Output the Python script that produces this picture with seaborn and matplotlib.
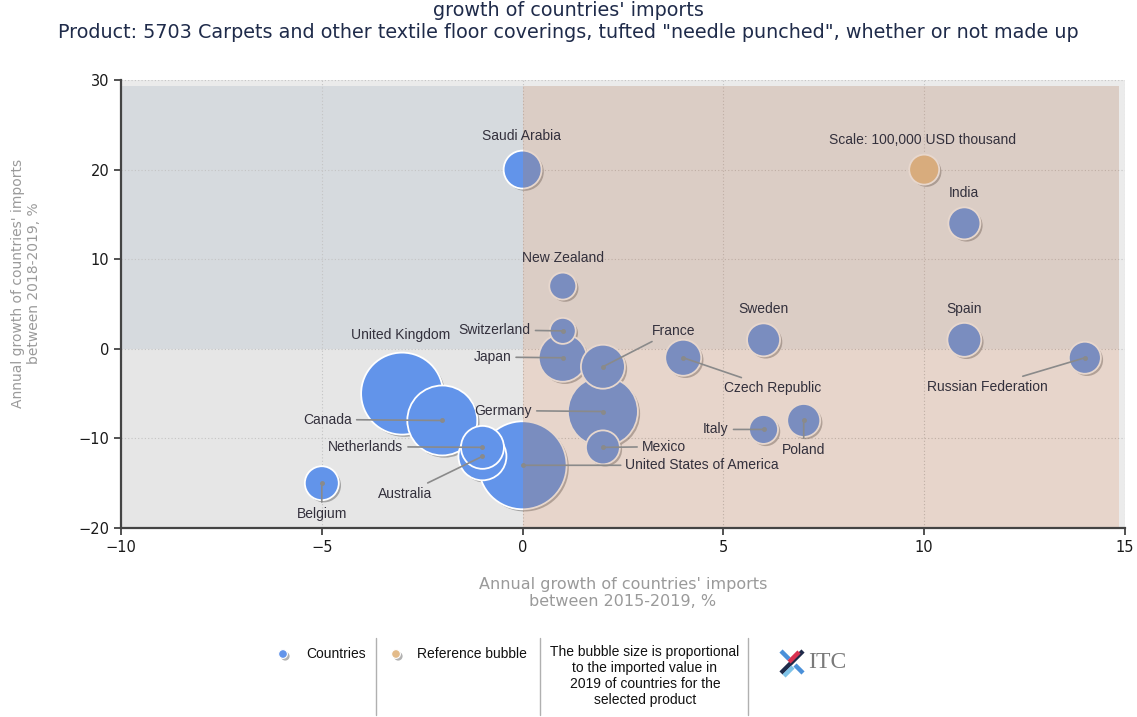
import numpy as np
import pandas as pd
import matplotlib
matplotlib.use("Agg")
import matplotlib.pyplot as plt
import matplotlib.patheffects as pe
from matplotlib.patches import Rectangle
import seaborn as sns

# ---- data -------------------------------------------------------------
countries = [
    "United States of America", "United Kingdom", "Germany", "Canada",
    "Japan", "Australia", "France", "Netherlands", "Saudi Arabia",
    "Czech Republic", "Mexico", "Belgium", "Spain", "Sweden", "Poland",
    "India", "Russian Federation", "Italy", "New Zealand", "Switzerland",
]
growth_2015_2019 = [0, -3, 2, -2, 1, -1, 2, -1, 0, 4, 2, -5, 11, 6, 7, 11, 14, 6, 1, 1]
growth_2018_2019 = [-13, -5, -7, -8, -1, -12, -2, -11, 20, -1, -11, -15, 1, 1, -8, 14, -1, -9, 7, 2]
imports_2019 = [860000, 747000, 544000, 544000, 256000, 256000, 215000, 205000,
                160000, 144000, 128000, 128000, 128000, 121000, 121000,
                114000, 114000, 93000, 81000, 75000]

reference_label = "Scale: 100,000 USD thousand"
reference_x = [10]
reference_y = [20]
reference_value = [100000]

x_ticks = [-10, -5, 0, 5, 10, 15]
y_ticks = [-20, -10, 0, 10, 20, 30]

# ---- label placement (offsets in points from the bubble centre) ------
label_layout = {
    "United States of America": ((74, 0), "left", True),
    "United Kingdom": ((-1, 42), "center", False),
    "Germany": ((-51, 0.7), "right", True),
    "Canada": ((-65, 0.7), "right", True),
    "Japan": ((-37, 0.5), "right", True),
    "Australia": ((-36, -27), "right", True),
    "France": ((35, 26), "left", True),
    "Netherlands": ((-57, 0.5), "right", True),
    "Saudi Arabia": ((-0.5, 24.5), "center", False),
    "Czech Republic": ((29.5, -22), "left", True),
    "Mexico": ((28, 0.5), "left", True),
    "Belgium": ((0, -22), "center", True),
    "Spain": ((0, 22), "center", False),
    "Sweden": ((0, 22), "center", False),
    "Poland": ((0, -21), "center", True),
    "India": ((0, 22), "center", False),
    "Russian Federation": ((-27, -21), "right", True),
    "Italy": ((-25, 0), "right", True),
    "New Zealand": ((0, 20), "center", False),
    "Switzerland": ((-23, 0.7), "right", True),
}

# ---- styling ----------------------------------------------------------
sns.set_theme(style="white")
plt.rcParams["font.family"] = ["DejaVu Sans"]

W, H = 1137, 717
fig = plt.figure(figsize=(W / 100, H / 100), dpi=100)
ax = fig.add_axes([121 / W, 1 - 528 / H, (1125 - 121) / W, (528 - 80) / H])
ax.set_facecolor("#ebebeb")

XMIN, XMAX, YMIN, YMAX = -10, 15, -20, 30
ax.set_xlim(XMIN, XMAX)
ax.set_ylim(YMIN, YMAX)

# quadrant shading
shade_right, shade_top = 14.85, 29.3
ax.add_patch(Rectangle((XMIN, 0), 0 - XMIN, shade_top, facecolor="#d6dade",
                       edgecolor="none", zorder=0.1))
ax.add_patch(Rectangle((XMIN, YMIN), 0 - XMIN, -YMIN, facecolor="#e6e6e6",
                       edgecolor="none", zorder=0.1))
ax.add_patch(Rectangle((0, 0), shade_right, shade_top, facecolor="#eef0f3",
                       edgecolor="none", zorder=0.1))
ax.add_patch(Rectangle((0, YMIN), shade_right, -YMIN, facecolor="#fefcfc",
                       edgecolor="none", zorder=0.1))

ax.set_axisbelow(True)
ax.grid(True, linestyle=(0, (1, 2)), color="#c4c4c4", linewidth=0.8)

df = pd.DataFrame({
    "country": countries,
    "x": growth_2015_2019,
    "y": growth_2018_2019,
    "value": imports_2019,
}).sort_values("value", ascending=False)

ref = pd.DataFrame({"x": reference_x, "y": reference_y, "value": reference_value})

# bubble area proportional to value; a 100,000 bubble is ~30 px across
px_to_pt = 0.72
ref_area = (30 * px_to_pt) ** 2
vmax = max(imports_2019)
size_kw = dict(size="value", size_norm=(0, vmax),
               sizes=(0, ref_area * vmax / reference_value[0]))
shadow = [pe.SimplePatchShadow(offset=(1.6, -1.6), shadow_rgbFace="#555555", alpha=0.45),
          pe.Normal()]

sns.scatterplot(data=df, x="x", y="y", color="#6294ea", edgecolor="white",
                linewidth=1.3, alpha=1, legend=False, ax=ax, zorder=2, **size_kw)
ax.collections[-1].set_path_effects(shadow)
sns.scatterplot(data=ref, x="x", y="y", color="#e9c18c", edgecolor="white",
                linewidth=1.3, alpha=1, legend=False, ax=ax, zorder=2, **size_kw)
ax.collections[-1].set_path_effects(shadow)

# warm overlay on the right half
ax.add_patch(Rectangle((0, YMIN), shade_right, shade_top - YMIN, facecolor="#b27d5c",
                       alpha=0.3, edgecolor="none", zorder=3))

label_color = "#33303c"
label_size = 10
for name, xv, yv in zip(df["country"], df["x"], df["y"]):
    (dx, dy), ha, leader = label_layout[name]
    ax.annotate(name, xy=(xv, yv), xytext=(dx, dy), textcoords="offset points",
                ha=ha, va="center", fontsize=label_size, family="Liberation Sans",
                color=label_color, zorder=6,
                arrowprops=dict(arrowstyle="-", color="#8a8a8a", lw=1.2,
                                shrinkA=1, shrinkB=0) if leader else None)
    if leader:
        ax.plot([xv], [yv], marker="o", markersize=2.5, color="#8a8a8a", zorder=5)

ax.annotate(reference_label, xy=(reference_x[0], reference_y[0]), xytext=(-1, 21),
            textcoords="offset points", ha="center", va="center", fontsize=label_size,
            family="Liberation Sans", color=label_color, zorder=6)

# axes, ticks
ax.set_xticks(x_ticks)
ax.set_yticks(y_ticks)
ax.tick_params(axis="both", direction="out", length=5, width=1.2, color="#333333",
               labelsize=10.5, labelcolor="#1a1a1a", left=True, bottom=True)
for side in ("top", "right"):
    ax.spines[side].set_visible(False)
for side in ("left", "bottom"):
    ax.spines[side].set_color("#444444")
    ax.spines[side].set_linewidth(1.6)
    ax.spines[side].set_zorder(7)
ax.set_xlabel("")
ax.set_ylabel("")

fig.text(623 / W, 1 - 593 / H,
         "Annual growth of countries' imports\nbetween 2015-2019, %",
         ha="center", va="center", fontsize=11.5, color="#9a9a9a", linespacing=1.15)
fig.text(26 / W, 1 - 283 / H,
         "Annual growth of countries' imports\nbetween 2018-2019, %",
         ha="center", va="center", rotation=90, fontsize=10, color="#9a9a9a",
         linespacing=1.1)

# title
title_color = "#1f2b4a"
fig.text(0.5, 1 - 10 / H, "growth of countries' imports", ha="center", va="center",
         fontsize=13.8, color=title_color)
fig.text(0.5, 1 - 33 / H,
         'Product: 5703 Carpets and other textile floor coverings, tufted "needle punched", whether or not made up',
         ha="center", va="center", fontsize=13.8, color=title_color)

# legend strip
lg = fig.add_axes([0, 0, 1, 1], zorder=-1)
lg.set_xlim(0, W)
lg.set_ylim(H, 0)
lg.axis("off")
lg.patch.set_alpha(0)
for xs in (376, 540, 748):
    lg.plot([xs, xs], [638, 715], color="#b0b0b0", lw=1)
lg.scatter([283], [654], s=40, color="#6294ea", edgecolor="white", linewidth=0.8,
           path_effects=shadow)
lg.scatter([396], [654], s=40, color="#e3bb8a", edgecolor="white", linewidth=0.8,
           path_effects=shadow)
fig.text(306 / W, 1 - 654 / H, "Countries", ha="left", va="center", fontsize=10,
         family="Liberation Sans", color="#111111")
fig.text(417 / W, 1 - 654 / H, "Reference bubble", ha="left", va="center", fontsize=10,
         family="Liberation Sans", color="#111111")
fig.text(645 / W, 1 - 676 / H,
         "The bubble size is proportional\nto the imported value in\n2019 of countries for the\nselected product",
         ha="center", va="center", fontsize=10, family="Liberation Sans", color="#111111",
         linespacing=1.2)

# ITC mark
lg.plot([781, 789], [651, 659], color="#4a90d9", lw=3.2, solid_capstyle="butt")
lg.plot([795, 803], [665, 673], color="#4a90d9", lw=3.2, solid_capstyle="butt")
lg.plot([781, 803], [673, 651], color="#1f2b4a", lw=3.2, solid_capstyle="butt")
lg.plot([789, 799], [662, 652], color="#d9304f", lw=3.2, solid_capstyle="butt")
lg.plot([784, 793], [676, 667], color="#7ec3e8", lw=3.2, solid_capstyle="butt")
fig.text(808 / W, 1 - 662 / H, "ITC", ha="left", va="center", fontsize=17,
         family="Liberation Serif", color="#7a7a7a")

fig.savefig("out.png", dpi=100)
